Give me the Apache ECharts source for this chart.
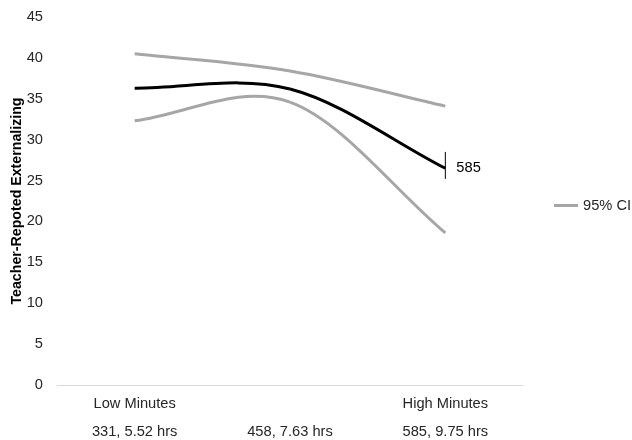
<!DOCTYPE html>
<html>
<head>
<meta charset="utf-8">
<script src="https://cdn.jsdelivr.net/npm/echarts@6/dist/echarts.min.js"></script>
<style>
  html, body { margin: 0; padding: 0; background: #fff; }
  #chart { width: 632px; height: 440px; }
</style>
</head>
<body>
<div id="chart"></div>
<script>
const groupLabels = ['Low Minutes', '', 'High Minutes']
const timeLabels = ['331, 5.52 hrs', '458, 7.63 hrs', '585, 9.75 hrs']
const upperCI = [40.5, 38.4, 34.1]
const meanValues = [36.3, 36.2, 26.5]
const lowerCI = [32.3, 34.6, 18.6]
// error bar at the high-minutes point: [category index, low, high, label]
const errorBars = [[2, 25.2, 28.5, '585']]

const chart = echarts.init(document.getElementById('chart'))
const font = 'Liberation Sans, Arial, sans-serif'

// spreadsheet-style smoothed line: one bezier segment per point, tangents from neighbours
const smoothLine = (values, color, width) => (params, api) => {
  const i = params.dataIndex
  if (i >= values.length - 1) return null
  const pts = values.map((v, k) => api.coord([k, v]))
  const p0 = pts[i]
  const p1 = pts[i + 1]
  const prev = pts[i - 1]
  const next = pts[i + 2]
  const c1 = prev
    ? [p0[0] + (p1[0] - prev[0]) / 6, p0[1] + (p1[1] - prev[1]) / 6]
    : [p0[0] + (p1[0] - p0[0]) / 3, p0[1] + (p1[1] - p0[1]) / 3]
  const c2 = next
    ? [p1[0] - (next[0] - p0[0]) / 6, p1[1] - (next[1] - p0[1]) / 6]
    : [p1[0] - (p1[0] - p0[0]) / 3, p1[1] - (p1[1] - p0[1]) / 3]
  return {
    type: 'bezierCurve',
    shape: {
      x1: p0[0], y1: p0[1],
      cpx1: c1[0], cpy1: c1[1],
      cpx2: c2[0], cpy2: c2[1],
      x2: p1[0], y2: p1[1]
    },
    style: { stroke: color, lineWidth: width, fill: null }
  }
}

const toPoints = values => values.map((v, i) => [i, v])

const option = {
  animation: false,
  textStyle: { fontFamily: font },
  grid: { left: 57, right: 109, top: 17, bottom: 55, outerBoundsMode: 'none', containLabel: false },
  legend: {
    data: ['95% CI'],
    left: 549,
    top: 193,
    icon: 'rect',
    itemWidth: 24,
    itemHeight: 3,
    itemGap: 0,
    textStyle: { color: '#262626', fontSize: 14.67, fontFamily: font }
  },
  xAxis: {
    type: 'category',
    data: groupLabels.map((g, i) => g + '\n' + timeLabels[i]),
    boundaryGap: true,
    axisLine: { lineStyle: { color: '#d9d9d9', width: 1 } },
    axisTick: { show: false },
    axisLabel: {
      color: '#262626',
      fontSize: 14.67,
      lineHeight: 28,
      margin: 5,
      interval: 0
    }
  },
  yAxis: {
    type: 'value',
    min: 0,
    max: 45,
    interval: 5,
    name: 'Teacher-Repoted Externalizing',
    nameLocation: 'middle',
    nameGap: 33,
    nameMoveOverlap: false,
    nameTextStyle: { color: '#000', fontSize: 14.2, fontWeight: 'bold', fontFamily: font },
    axisLine: { show: false },
    axisTick: { show: false },
    splitLine: { show: false },
    axisLabel: { color: '#262626', fontSize: 14.67, margin: 14 }
  },
  series: [
    {
      name: '95% CI',
      type: 'custom',
      data: toPoints(upperCI),
      encode: { x: 0, y: 1 },
      itemStyle: { color: '#a6a6a6' },
      renderItem: smoothLine(upperCI, '#a6a6a6', 3)
    },
    {
      name: '95% CI',
      type: 'custom',
      data: toPoints(lowerCI),
      encode: { x: 0, y: 1 },
      itemStyle: { color: '#a6a6a6' },
      renderItem: smoothLine(lowerCI, '#a6a6a6', 3)
    },
    {
      name: 'Mean',
      type: 'custom',
      z: 3,
      data: toPoints(meanValues),
      encode: { x: 0, y: 1 },
      itemStyle: { color: '#000' },
      renderItem: smoothLine(meanValues, '#000', 3)
    },
    {
      name: 'Error',
      type: 'custom',
      z: 4,
      data: errorBars,
      encode: { x: 0, y: [1, 2] },
      renderItem: (params, api) => {
        const top = api.coord([api.value(0), api.value(2)])
        const bottom = api.coord([api.value(0), api.value(1)])
        const meanPt = api.coord([api.value(0), meanValues[api.value(0)]])
        return {
          type: 'group',
          children: [
            {
              type: 'line',
              shape: { x1: top[0], y1: top[1], x2: bottom[0], y2: bottom[1] },
              style: { stroke: '#000', lineWidth: 1 }
            },
            {
              type: 'text',
              style: {
                x: top[0] + 11,
                y: meanPt[1],
                text: errorBars[params.dataIndex][3],
                fill: '#000',
                font: '14.67px ' + font,
                verticalAlign: 'middle'
              }
            }
          ]
        }
      }
    }
  ]
}

chart.setOption(option)
</script>
</body>
</html>
